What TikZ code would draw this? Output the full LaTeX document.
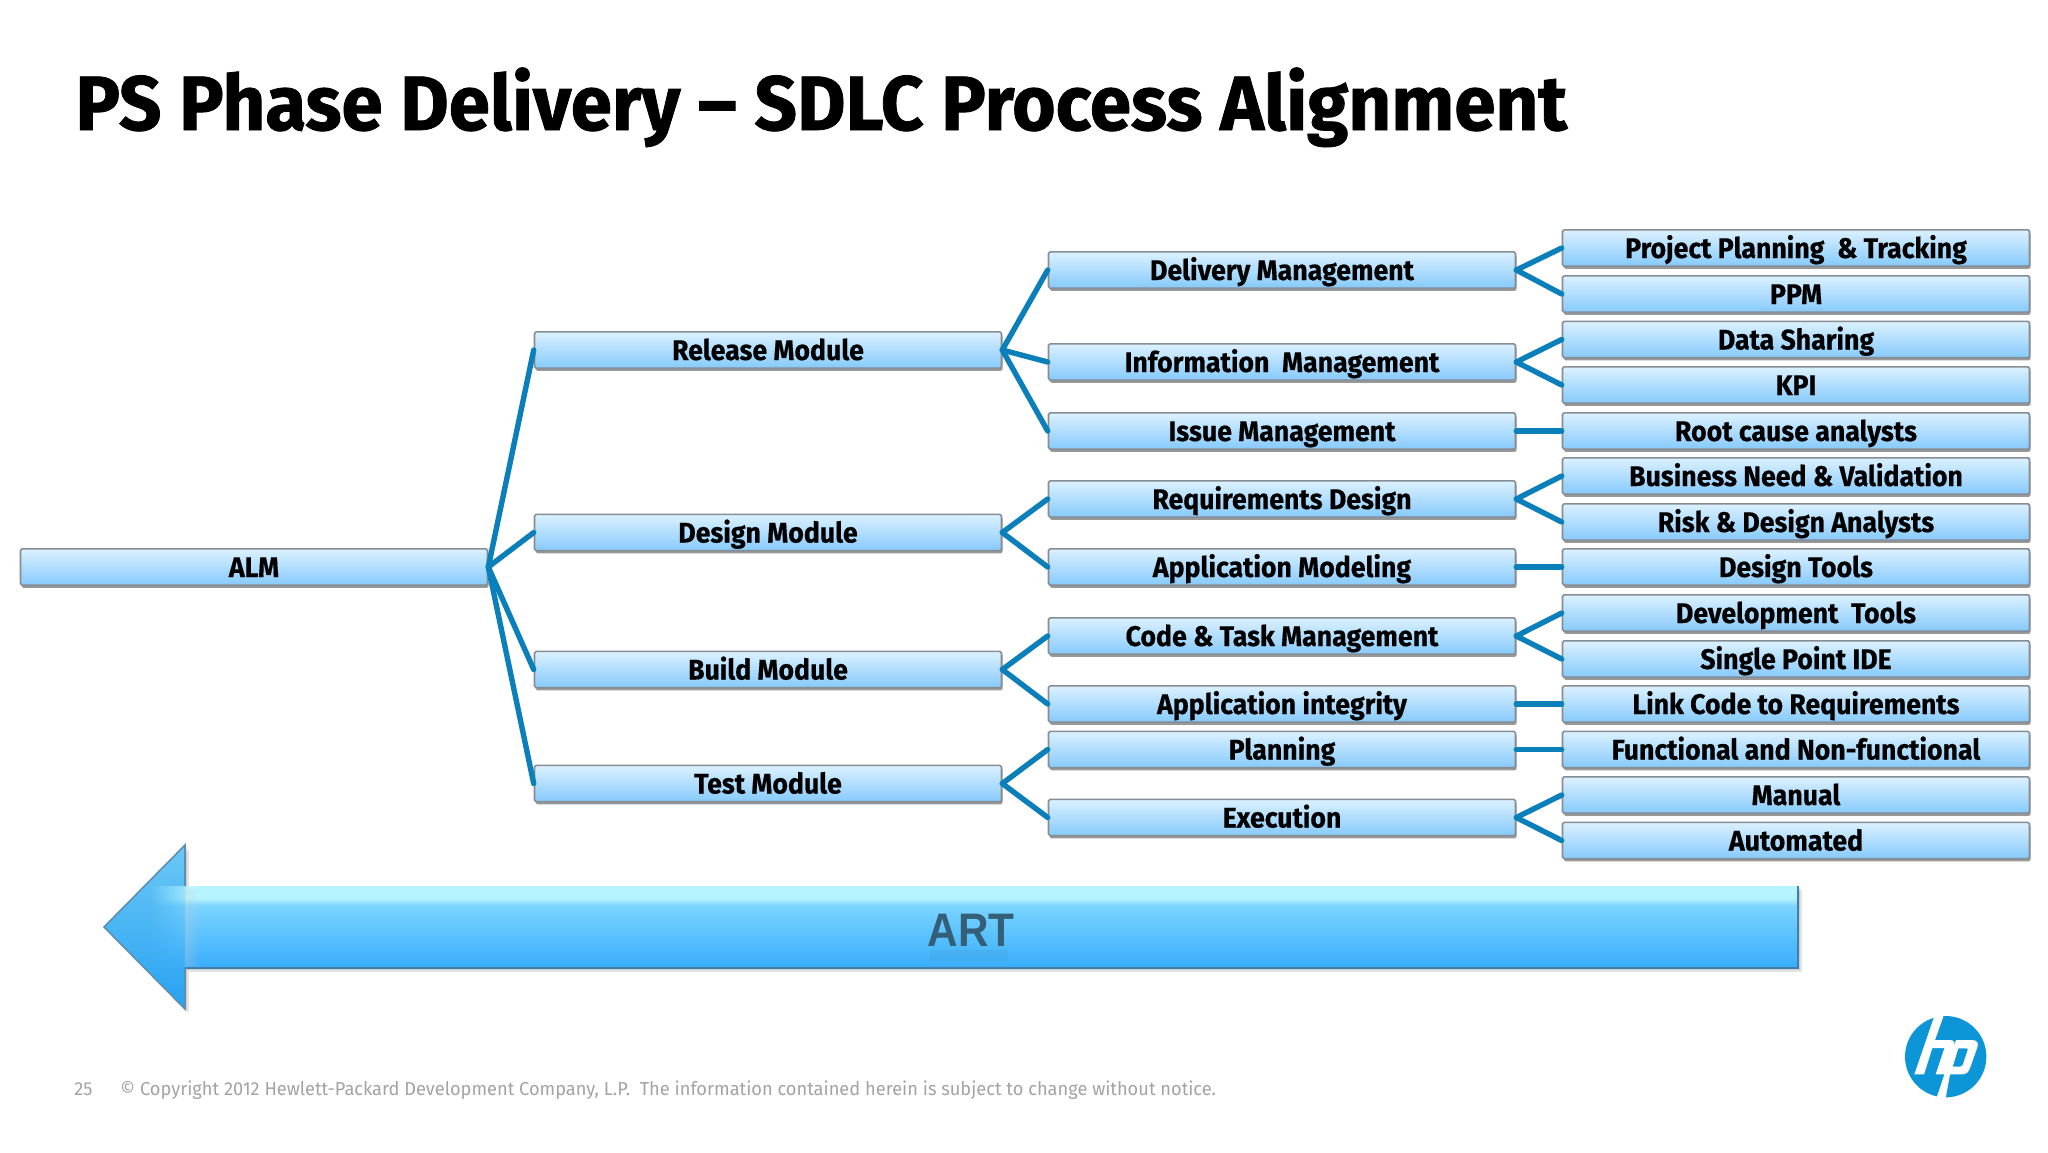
\documentclass[tikz,border=0pt]{standalone}
\usepackage{fontspec}
\setmainfont{Fira Sans}[BoldFont=* Bold]
\newfontfamily\condbold{Fira Sans Bold}[FakeStretch=0.94,FakeBold=0.5]
\newfontfamily\titlebold{Fira Sans Bold}[FakeStretch=0.968,FakeBold=1]
\newfontfamily\footfont{Fira Sans}[FakeStretch=0.97]
\newfontfamily\artfont{Liberation Sans Bold}[FakeStretch=0.9]
\usetikzlibrary{shadows,fadings}
\definecolor{conn}{HTML}{0A7FB9}
\definecolor{boxtop}{HTML}{DBF1FF}
\definecolor{boxbot}{HTML}{86CAFC}
\definecolor{boxline}{HTML}{868D94}
\definecolor{foot}{HTML}{A3A3A3}
\definecolor{hpblue}{HTML}{0C96D8}
\definecolor{arttext}{HTML}{345F78}
\definecolor{shB}{HTML}{38ADFB}
\definecolor{shD}{HTML}{7AD4FF}
\definecolor{shE}{HTML}{B6F4FF}
\definecolor{headtop}{HTML}{6CC8F6}
\definecolor{headbot}{HTML}{27A2F2}
\definecolor{headline}{HTML}{5F8FB0}
\definecolor{shaftline}{HTML}{3F7FAE}
\pgfdeclareverticalshading{shaftshade}{100bp}{
 color(0bp)=(shB);
 color(25bp)=(shB);
 color(63bp)=(shD);
 color(67.5bp)=(shE);
 color(75bp)=(shE);
 color(100bp)=(shE)}
\tikzset{
  mod/.style={draw=boxline,line width=.8pt,top color=boxtop,bottom color=boxbot,rounded corners=.8pt,
    minimum width=233.5pt,minimum height=18.2pt,inner sep=0pt,text=black,
    text height=10pt,text depth=0pt,
    font=\condbold\fontsize{14.2}{16}\selectfont,
    drop shadow={shadow xshift=.6pt,shadow yshift=-1.3pt,fill=black,opacity=.4}},
  link/.style={draw=conn,line width=2.7pt,line cap=round},
  plain/.style={inner sep=0pt,anchor=base west},
}
\begin{document}
\begin{tikzpicture}[x=.5pt,y=-.5pt]
\useasboundingbox (0,0) rectangle (2048,1152);
\fill[white] (0,0) rectangle (2048,1152);
\node[plain,font=\titlebold\fontsize{38.5}{44}\selectfont] (title) at (75,130) {PS Phase Delivery – SDLC Process Alignment};
% column 1
\node[mod] (alm) at (254,567) {ALM};
% column 2
\node[mod] (rel) at (768,350) {Release Module};
\node[mod] (des) at (768,532.5) {Design Module};
\node[mod] (bui) at (768,669.5) {Build Module};
\node[mod] (tes) at (768,783.5) {Test Module};
% column 3
\node[mod] (del) at (1282,270) {Delivery Management};
\node[mod] (inf) at (1282,362) {Information~ Management};
\node[mod] (iss) at (1282,431) {Issue Management};
\node[mod] (req) at (1282,499) {Requirements Design};
\node[mod] (app) at (1282,567) {Application Modeling};
\node[mod] (cod) at (1282,636) {Code \& Task Management};
\node[mod] (int) at (1282,704) {Application integrity};
\node[mod] (pla) at (1282,749.5) {Planning};
\node[mod] (exe) at (1282,817.5) {Execution};
% column 4
\node[mod] (d1) at (1796,248) {Project Planning~ \& Tracking};
\node[mod] (d2) at (1796,294) {PPM};
\node[mod] (d3) at (1796,339.5) {Data Sharing};
\node[mod] (d4) at (1796,385) {KPI};
\node[mod] (d5) at (1796,431) {Root cause analysts};
\node[mod] (d6) at (1796,476) {Business Need \& Validation};
\node[mod] (d7) at (1796,522) {Risk \& Design Analysts};
\node[mod] (d8) at (1796,567) {Design Tools};
\node[mod] (d9) at (1796,613) {Development~ Tools};
\node[mod] (d10) at (1796,659) {Single Point IDE};
\node[mod] (d11) at (1796,704) {Link Code to Requirements};
\node[mod] (d12) at (1796,749.5) {Functional and Non-functional};
\node[mod] (d13) at (1796,795) {Manual};
\node[mod] (d14) at (1796,840.5) {Automated};
% connectors
\foreach \a/\b in {alm/rel,alm/des,alm/bui,alm/tes,
  rel/del,rel/inf,rel/iss,des/req,des/app,bui/cod,bui/int,tes/pla,tes/exe,
  del/d1,del/d2,inf/d3,inf/d4,iss/d5,req/d6,req/d7,app/d8,cod/d9,cod/d10,int/d11,pla/d12,exe/d13,exe/d14}
  \draw[link] (\a.east) -- (\b.west);
% ART arrow
\foreach \o in {2,4}
  \fill[black,opacity=.1] (104+\o,927+\o) -- (185+\o,845+\o) -- (185+\o,886+\o) -- (1798+\o,886+\o) -- (1798+\o,968+\o) -- (185+\o,968+\o) -- (185+\o,1009+\o) -- cycle;
\shade[top color=headtop,bottom color=headbot]
  (104,927) -- (185,845) -- (185,1009) -- cycle;
\shade[shading=shaftshade,path fading=west] (150,886) rectangle (200,968);
\shade[shading=shaftshade] (199,886) rectangle (1798,968);
\draw[line width=1pt,draw=shaftline] (185,968) -- (1798,968) -- (1798,886);
\draw[line width=.8pt,draw=headline] (185,886) -- (185,845) -- (104,927) -- (185,1009) -- (185,968);
\node[inner sep=0pt,text=arttext,font=\artfont\fontsize{23.5}{26}\selectfont] (art) at (971,930) {ART};
\fill[arttext,opacity=.07] (930,950) rectangle (1008,961);
% footer
\node[plain,text=foot,font=\footfont\fontsize{9.4}{11}\selectfont] (pg) at (74,1095) {25};
\node[plain,text=foot,font=\footfont\fontsize{9.4}{11}\selectfont] (copy) at (120,1095) {\copyright{} Copyright 2012 Hewlett-Packard Development Company, L.P.\ \ The information contained herein is subject to change without notice.};
% hp logo
\begin{scope}[shift={(1780,980)},x=.16667pt,y=-.16667pt]
\fill[hpblue] (497,230) circle [radius=122*.16667pt];
\fill[white,even odd rule]
  (463,108) -- (492,104) -- (465,180) -- (510,180) .. controls (524,180) and (526,190) .. (522,202) -- (496,283) -- (467,283) -- (492,208) .. controls (494,203) and (492,204) .. (488,204) -- (457,204) -- (432,283) -- (403,283) -- cycle;
\fill[white,even odd rule]
  (528,180) -- (577,180) .. controls (592,180) and (596,190) .. (592,202) -- (570,264) .. controls (566,277) and (558,283) .. (546,283) -- (510,283) -- (497,354) -- (470,352) -- cycle
  (535,205) -- (518,260) -- (541,260) .. controls (545,260) and (547,258) .. (548,255) -- (563,210) .. controls (564,206) and (562,205) .. (558,205) -- cycle;
\end{scope}
\end{tikzpicture}
\end{document}
